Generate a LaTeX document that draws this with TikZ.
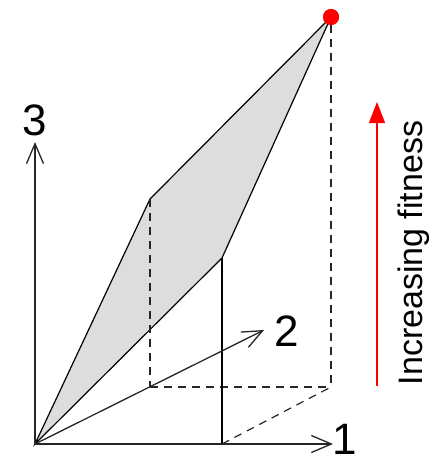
\documentclass[tikz,border=0pt]{standalone}
\usepackage{fontspec}
\setmainfont{Liberation Sans}
\usetikzlibrary{arrows.meta}
\definecolor{facegray}{RGB}{221,221,221}

\begin{document}
\begin{tikzpicture}[
    x=1pt, y=-1pt,
    axis/.style={line width=1.3pt, draw=black!85, -{Straight Barb[length=20pt, width=17pt, line width=1.3pt]}},
    edge/.style={line width=1.2pt},
    guide/.style={line width=1.2pt, draw=black!85, dash pattern=on 8pt off 6pt},
    axlabel/.style={font=\fontsize{44}{44}\selectfont, inner sep=0pt},
    peak/.style={circle, fill=red, inner sep=0pt, minimum size=16pt},
    font=\fontsize{34}{34}\selectfont
]
    \useasboundingbox (0,0) rectangle (441,460);

    % 顶点 (坐标轴原点与面上的点)
    \coordinate (O) at (35,444);   % 原点
    \coordinate (A) at (150,199);  % 左上顶点
    \coordinate (B) at (222,258);  % 右下顶点
    \node[peak] (P) at (331,17) {}; % 最高点
    \coordinate (Ab) at (150,387); % A 的投影
    \coordinate (Bb) at (222,444); % B 的投影
    \coordinate (Pb) at (331,387); % P 的投影
    \coordinate (E1) at (333,444); % 轴 1 终点
    \coordinate (E2) at (264,330); % 轴 2 终点
    \coordinate (E3) at (35,142);  % 轴 3 终点

    % 1. 灰色平面
    \filldraw[edge, fill=facegray] (O) -- (A) -- (P.center) -- (B) -- cycle;

    % 2. 投影线
    \draw[guide] (A) -- (Ab);
    \draw[guide] (Ab) -- (Pb);
    \draw[guide] (P) -- (Pb);
    \draw[guide] (Bb) -- (Pb);
    \draw[edge] (B) -- (Bb);
    \node[peak] at (P) {};

    % 3. 坐标轴
    \draw[axis] (O) -- (E1);
    \draw[axis] (O) -- (E2);
    \draw[axis] (O) -- (E3);
    \node[axlabel] (L1) at (345,439) {1};
    \node[axlabel] (L2) at (287,331) {2};
    \node[axlabel] (L3) at (35,120) {3};

    % 4. 适应度箭头
    \coordinate (F0) at (377,386);
    \coordinate (F1) at (377,102);
    \draw[red, line width=1.2pt, -{Triangle[length=21pt, width=16pt]}] (F0) -- (F1);
    \node[rotate=90, anchor=base, inner sep=0pt] (fit) at (422,253) {Increasing fitness};

\end{tikzpicture}
\end{document}
